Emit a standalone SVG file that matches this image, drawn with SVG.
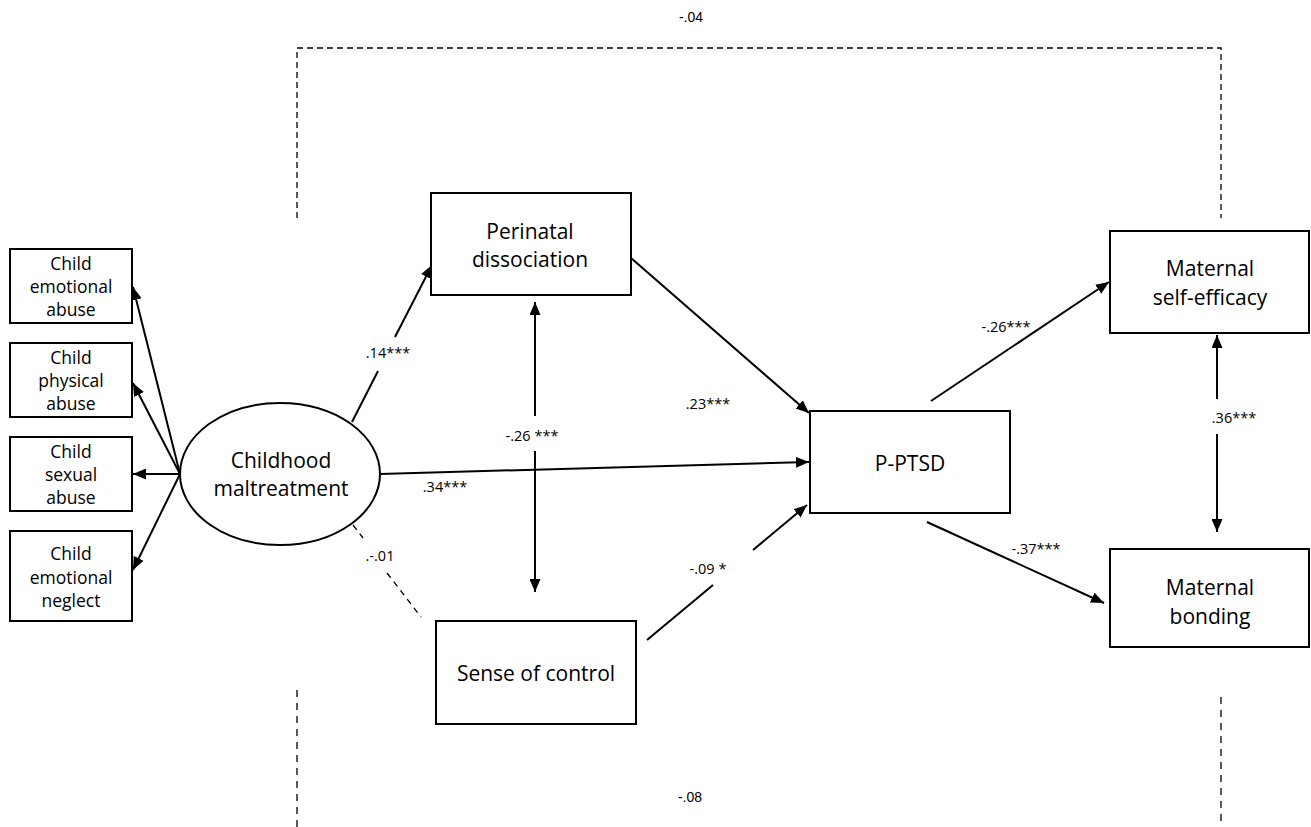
<svg xmlns="http://www.w3.org/2000/svg" width="1311" height="827" viewBox="0 0 1311 827">
<defs>
<marker id="arr" viewBox="0 0 13 11" refX="13" refY="5.5" markerWidth="13" markerHeight="11" markerUnits="userSpaceOnUse" orient="auto">
<path d="M0,0 L13,5.5 L0,11 z" fill="#000"/>
</marker>
</defs>
<style>
.box{fill:#fff;stroke:#000;stroke-width:2}
.t{font-family:"Open Sans",Lato,sans-serif;fill:#000;text-anchor:middle;dominant-baseline:central}
.big{font-size:21px}
.sm{font-size:17.5px}
.lab{font-size:14.5px}
.tiny{font-family:"Liberation Sans",Arial,sans-serif;font-size:14px;fill:#000;text-anchor:middle;dominant-baseline:central}
.ln{fill:none;stroke:#000;stroke-width:2}
.arr{marker-end:url(#arr)}
.dash{fill:none;stroke:#000;stroke-width:1.3}
</style>
<rect width="1311" height="827" fill="#fff"/>

<g id="connectors">
  <path class="dash" d="M297,218 V48 H1221 V218" stroke-dasharray="6,4"/>
  <path class="dash" d="M297,690 V827" stroke-dasharray="7,6"/>
  <path class="dash" d="M1221,697 V827" stroke-dasharray="7,6"/>
  <text class="tiny" x="691" y="17">-.04</text>
  <text class="tiny" x="690" y="797">-.08</text>

  <line class="ln arr" x1="180" y1="474" x2="133" y2="287"/>
  <line class="ln arr" x1="180" y1="474" x2="133" y2="383"/>
  <line class="ln arr" x1="180" y1="474" x2="133" y2="474"/>
  <line class="ln arr" x1="180" y1="474" x2="133" y2="570"/>

  <line class="ln" x1="352" y1="422" x2="378" y2="371"/>
  <line class="ln arr" x1="395" y1="337" x2="432" y2="265"/>
  <text class="t lab" x="388" y="352">.14***</text>

  <line class="ln arr" x1="535" y1="416" x2="535" y2="302"/>
  <line class="ln arr" x1="535" y1="451" x2="535" y2="592"/>
  <text class="t lab" x="532" y="435">-.26 ***</text>

  <line class="ln arr" x1="631" y1="258" x2="809" y2="413"/>
  <text class="t lab" x="708" y="403">.23***</text>

  <line class="ln arr" x1="380" y1="474" x2="809" y2="462"/>
  <text class="t lab" x="445" y="486">.34***</text>

  <line class="dash" x1="353" y1="525" x2="363" y2="538" stroke-dasharray="6,5"/>
  <line class="dash" x1="387" y1="573" x2="421" y2="617" stroke-dasharray="6,5"/>
  <text class="t lab" x="380" y="555">.-.01</text>

  <line class="ln" x1="647" y1="640" x2="713" y2="585"/>
  <line class="ln arr" x1="753" y1="550" x2="807" y2="505"/>
  <text class="t lab" x="708" y="568">-.09 *</text>

  <line class="ln arr" x1="931" y1="401" x2="1109" y2="282"/>
  <text class="t lab" x="1006" y="326">-.26***</text>

  <line class="ln arr" x1="927" y1="522" x2="1104" y2="603"/>
  <text class="t lab" x="1036" y="548">-.37***</text>

  <line class="ln arr" x1="1217" y1="399" x2="1217" y2="335"/>
  <line class="ln arr" x1="1217" y1="434" x2="1217" y2="532"/>
  <text class="t lab" x="1234" y="417">.36***</text>
</g>

<g id="n-emo-abuse">
  <rect class="box" x="10" y="249" width="122" height="74"/>
  <text class="t sm" x="71" y="263">Child</text>
  <text class="t sm" x="71" y="286">emotional</text>
  <text class="t sm" x="71" y="309">abuse</text>
</g>
<g id="n-phys-abuse">
  <rect class="box" x="10" y="343" width="122" height="74"/>
  <text class="t sm" x="71" y="357">Child</text>
  <text class="t sm" x="71" y="380">physical</text>
  <text class="t sm" x="71" y="403">abuse</text>
</g>
<g id="n-sex-abuse">
  <rect class="box" x="10" y="437" width="122" height="74"/>
  <text class="t sm" x="71" y="451">Child</text>
  <text class="t sm" x="71" y="474">sexual</text>
  <text class="t sm" x="71" y="497">abuse</text>
</g>
<g id="n-emo-neglect">
  <rect class="box" x="10" y="531" width="122" height="90"/>
  <text class="t sm" x="71" y="553">Child</text>
  <text class="t sm" x="71" y="577">emotional</text>
  <text class="t sm" x="71" y="600">neglect</text>
</g>
<g id="n-childhood">
  <ellipse class="box" cx="280" cy="474" rx="100" ry="71"/>
  <text class="t big" x="281" y="460">Childhood</text>
  <text class="t big" x="281" y="488">maltreatment</text>
</g>
<g id="n-perinatal">
  <rect class="box" x="431" y="193" width="200" height="102"/>
  <text class="t big" x="530" y="231">Perinatal</text>
  <text class="t big" x="530" y="259">dissociation</text>
</g>
<g id="n-sense">
  <rect class="box" x="436" y="621" width="200" height="103"/>
  <text class="t big" x="536" y="673">Sense of control</text>
</g>
<g id="n-pptsd">
  <rect class="box" x="810" y="411" width="200" height="102"/>
  <text class="t big" x="910" y="463">P-PTSD</text>
</g>
<g id="n-selfeff">
  <rect class="box" x="1110" y="231" width="199" height="102"/>
  <text class="t big" x="1210" y="268">Maternal</text>
  <text class="t big" x="1210" y="297">self-efficacy</text>
</g>
<g id="n-bonding">
  <rect class="box" x="1110" y="549" width="199" height="98"/>
  <text class="t big" x="1210" y="587">Maternal</text>
  <text class="t big" x="1210" y="616">bonding</text>
</g>
</svg>
